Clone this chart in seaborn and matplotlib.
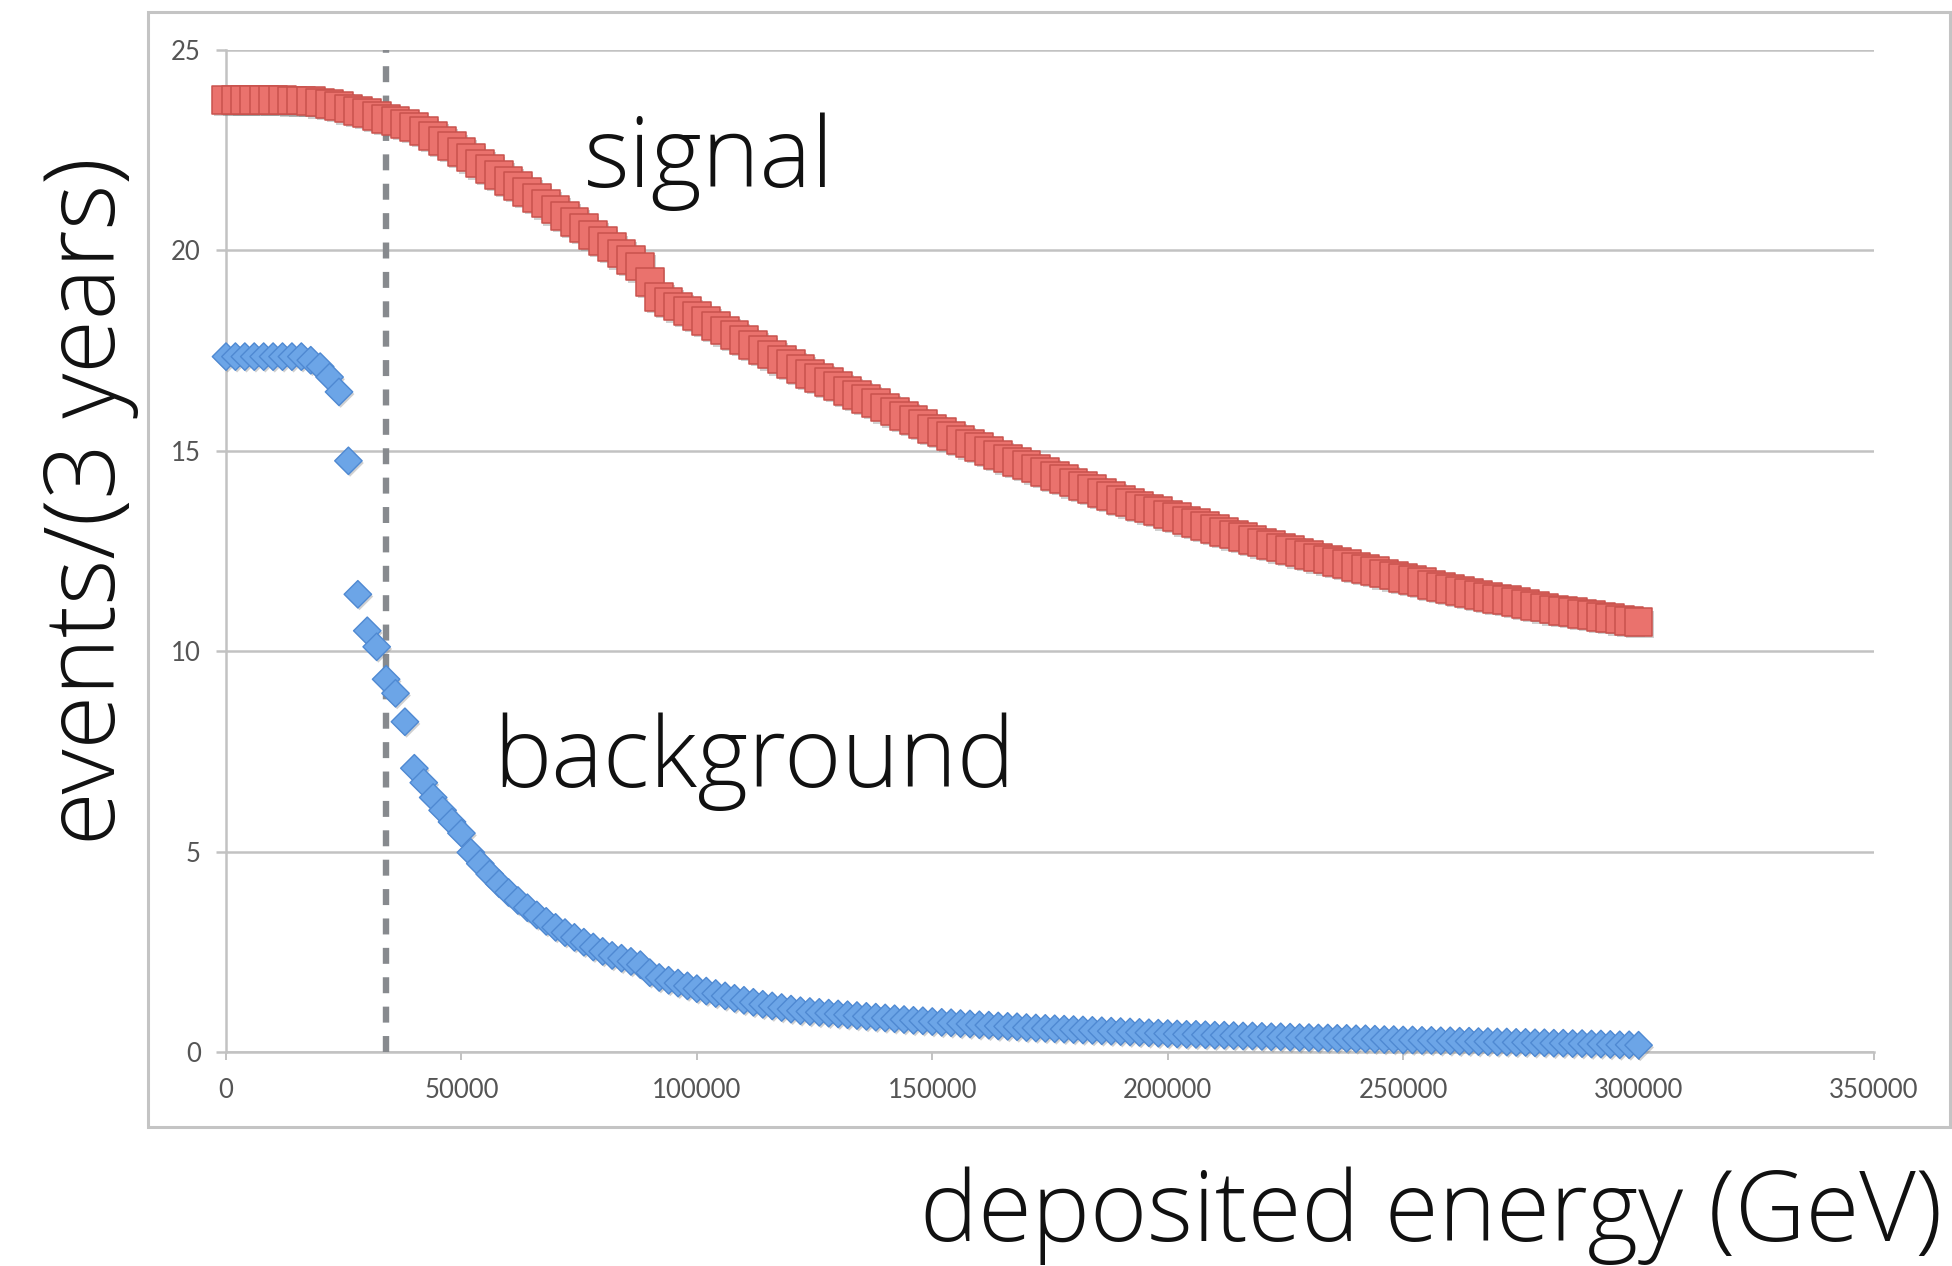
import matplotlib
matplotlib.use("Agg")
import matplotlib.pyplot as plt
import matplotlib.patheffects as pe
from matplotlib.patches import Rectangle
import numpy as np
import pandas as pd
import seaborn as sns

# ---------------- data ----------------
energy_gev = list(range(0, 300001, 2000))  # sampling grid of the markers

signal_events = [
    23.75, 23.75, 23.75, 23.75, 23.75, 23.75, 23.75, 23.74, 23.74, 23.72,
    23.69, 23.65, 23.60, 23.54, 23.48, 23.42, 23.35, 23.28, 23.22, 23.15,
    23.07, 22.98, 22.86, 22.73, 22.60, 22.46, 22.32, 22.17, 22.03, 21.89,
    21.74, 21.60, 21.46, 21.31, 21.17, 21.02, 20.86, 20.71, 20.55, 20.39,
    20.23, 20.08, 19.92, 19.76, 19.60, 19.22, 18.84, 18.72, 18.60, 18.48,
    18.36, 18.24, 18.12, 18.00, 17.88, 17.76, 17.64, 17.52, 17.40, 17.28,
    17.16, 17.04, 16.92, 16.82, 16.71, 16.61, 16.50, 16.40, 16.29, 16.19,
    16.08, 15.98, 15.87, 15.76, 15.66, 15.55, 15.46, 15.37, 15.27, 15.18,
    15.09, 15.00, 14.90, 14.81, 14.73, 14.64, 14.56, 14.47, 14.38, 14.30,
    14.21, 14.12, 14.04, 13.95, 13.87, 13.78, 13.71, 13.63, 13.56, 13.49,
    13.41, 13.34, 13.26, 13.19, 13.12, 13.05, 12.98, 12.91, 12.84, 12.78,
    12.71, 12.65, 12.59, 12.53, 12.46, 12.40, 12.34, 12.29, 12.23, 12.17,
    12.11, 12.06, 12.00, 11.94, 11.89, 11.83, 11.77, 11.72, 11.66, 11.61,
    11.56, 11.51, 11.46, 11.41, 11.36, 11.31, 11.27, 11.22, 11.18, 11.13,
    11.09, 11.04, 11.00, 10.97, 10.93, 10.90, 10.86, 10.83, 10.79, 10.76,
    10.72,
]

background_events = [
    17.35, 17.35, 17.35, 17.35, 17.35, 17.35, 17.35, 17.35, 17.35, 17.26,
    17.10, 16.84, 16.47, 14.75, 11.42, 10.51, 10.11, 9.30, 8.95, 8.24,
    7.08, 6.72, 6.35, 6.03, 5.74, 5.46, 4.98, 4.70, 4.44, 4.20,
    3.98, 3.78, 3.60, 3.42, 3.26, 3.11, 2.98, 2.86, 2.74, 2.62,
    2.51, 2.41, 2.34, 2.26, 2.18, 1.98, 1.86, 1.79, 1.72, 1.65,
    1.58, 1.52, 1.46, 1.40, 1.34, 1.29, 1.24, 1.19, 1.15, 1.11,
    1.07, 1.03, 1.01, 0.99, 0.97, 0.95, 0.93, 0.91, 0.89, 0.87,
    0.85, 0.83, 0.81, 0.79, 0.78, 0.76, 0.74, 0.73, 0.71, 0.70,
    0.68, 0.67, 0.65, 0.64, 0.63, 0.61, 0.60, 0.59, 0.58, 0.57,
    0.56, 0.55, 0.54, 0.53, 0.52, 0.51, 0.50, 0.49, 0.48, 0.47,
    0.46, 0.45, 0.44, 0.44, 0.43, 0.42, 0.42, 0.41, 0.40, 0.40,
    0.39, 0.38, 0.38, 0.37, 0.36, 0.36, 0.35, 0.35, 0.34, 0.34,
    0.33, 0.33, 0.32, 0.31, 0.31, 0.30, 0.30, 0.29, 0.29, 0.28,
    0.28, 0.27, 0.27, 0.26, 0.26, 0.25, 0.25, 0.24, 0.24, 0.23,
    0.23, 0.22, 0.22, 0.21, 0.21, 0.20, 0.20, 0.19, 0.18, 0.18,
    0.17,
]

cut_energy = 34000

x_ticks = [0, 50000, 100000, 150000, 200000, 250000, 300000, 350000]
x_tick_labels = ["0", "50000", "100000", "150000", "200000", "250000", "300000", "350000"]
y_ticks = [0, 5, 10, 15, 20, 25]
y_tick_labels = ["0", "5", "10", "15", "20", "25"]

x_label = "deposited energy (GeV)"
y_label = "events/(3 years)"
signal_label = "signal"
background_label = "background"

# ---------------- style ----------------
sns.set_theme(style="white")
plt.rcParams["font.family"] = ["Open Sans", "DejaVu Sans"]

W, H = 1952, 1266
fig = plt.figure(figsize=(W / 100, H / 100), dpi=100)
fig.patch.set_facecolor("white")

# outer chart-area frame
fig.add_artist(Rectangle((148 / W, (H - 1127) / H), (1950 - 148) / W, (1127 - 12) / H,
                         transform=fig.transFigure, fill=False,
                         edgecolor="#c4c4c4", linewidth=2.2, zorder=0))

ax = fig.add_axes([226 / W, (H - 1052) / H, (1874 - 226) / W, (1052 - 50) / H])
ax.set_facecolor("white")

df = pd.DataFrame({"energy": energy_gev,
                   "signal": signal_events,
                   "background": background_events})

shadow = [pe.SimplePatchShadow(offset=(1.2, -1.6), shadow_rgbFace="#7a7a7a", alpha=0.35),
          pe.Normal()]

sns.scatterplot(data=df, x="energy", y="signal", marker="s", s=400,
                color="#EA726D", edgecolor="#C9524D", linewidth=1.1,
                ax=ax, clip_on=False, zorder=4, legend=False)
sns.scatterplot(data=df, x="energy", y="background", marker="D", s=195,
                color="#6CA5E7", edgecolor="#4F89D2", linewidth=1.0,
                ax=ax, clip_on=False, zorder=4, legend=False)
for coll in ax.collections:
    coll.set_path_effects(shadow)

ax.axvline(cut_energy, color="#878a8e", linewidth=4.6, dashes=(2.5, 2.1), zorder=3)

ax.set_xlim(0, 350000)
ax.set_ylim(0, 25)
ax.set_xticks(x_ticks)
ax.set_xticklabels(x_tick_labels)
ax.set_yticks(y_ticks)
ax.set_yticklabels(y_tick_labels)
ax.set_xlabel("")
ax.set_ylabel("")

grid_col = "#c2c2c2"
ax.yaxis.grid(True, color=grid_col, linewidth=1.8)
ax.xaxis.grid(False)
ax.set_axisbelow(True)
for side in ["top", "right"]:
    ax.spines[side].set_visible(False)
for side in ["left", "bottom"]:
    ax.spines[side].set_color(grid_col)
    ax.spines[side].set_linewidth(1.8)

tick_font = ["Lato", "DejaVu Sans"]
ax.tick_params(axis="y", which="major", left=True, length=7, width=1.8, color=grid_col,
               pad=11, labelsize=18.5, labelcolor="#555555")
ax.tick_params(axis="x", which="major", bottom=True, length=6, width=1.4, color=grid_col,
               pad=13, labelsize=18.5, labelcolor="#555555")
for lab in ax.get_xticklabels() + ax.get_yticklabels():
    lab.set_family(tick_font)

# annotation texts and axis titles, placed on the figure
big = dict(fontsize=70.5, fontweight="light", color="#111111")
fig.text(584 / W, (H - 187) / H, signal_label, ha="left", va="baseline", **big)
fig.text(493 / W, (H - 787) / H, background_label, ha="left", va="baseline", **big)
fig.text(1942 / W, (H - 1241) / H, x_label, ha="right", va="baseline", **big)
fig.text(115 / W, (H - 501) / H, y_label, ha="center", va="baseline", rotation=90,
         rotation_mode="anchor", **big)

fig.savefig("out.png", dpi=100, facecolor="white")
